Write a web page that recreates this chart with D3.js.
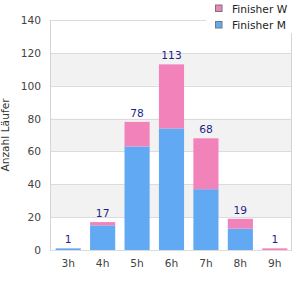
<!DOCTYPE html>
<html>
<head>
<meta charset="utf-8">
<script src="https://cdn.jsdelivr.net/npm/d3@7"></script>
<style>
  body { margin: 0; background: #fff; }
  svg { display: block; font-family: "DejaVu Sans", sans-serif; }
</style>
</head>
<body>
<div id="chart"></div>
<script>
const categories = ["3h", "4h", "5h", "6h", "7h", "8h", "9h"];
const finisherM = [1, 15, 63, 74, 37, 13, 0];
const finisherW = [0, 2, 15, 39, 31, 6, 1];
const yTicks = [0, 20, 40, 60, 80, 100, 120, 140];

const width = 300, height = 300;
const plotLeft = 50, plotRight = 291, plotTop = 20, plotBottom = 250;
const fontSize = "10.67px";

const svg = d3.select("#chart").append("svg")
  .attr("width", width)
  .attr("height", height);

const x = d3.scaleBand()
  .domain(categories)
  .range([51, 292])
  .paddingInner(0.27)
  .paddingOuter(0.135);

const y = d3.scaleLinear()
  .domain([0, 140])
  .range([plotBottom, plotTop]);

// alternating bands
for (let i = 0; i < yTicks.length - 1; i++) {
  if (i % 2 === 1) {
    svg.append("rect")
      .attr("x", plotLeft)
      .attr("y", y(yTicks[i + 1]))
      .attr("width", plotRight - plotLeft)
      .attr("height", y(yTicks[i]) - y(yTicks[i + 1]))
      .attr("fill", "#f2f2f2");
  }
}

// grid lines
svg.selectAll(".grid")
  .data(yTicks)
  .enter().append("line")
  .attr("x1", plotLeft)
  .attr("x2", plotRight)
  .attr("y1", d => Math.round(y(d)) + 0.5)
  .attr("y2", d => Math.round(y(d)) + 0.5)
  .attr("stroke", "#dcdcdc")
  .attr("stroke-width", 1);

// plot border (left, right)
svg.append("line")
  .attr("x1", plotLeft + 0.5).attr("x2", plotLeft + 0.5)
  .attr("y1", plotTop).attr("y2", plotBottom + 1)
  .attr("stroke", "#d4d4d4");
svg.append("line")
  .attr("x1", plotRight + 0.5).attr("x2", plotRight + 0.5)
  .attr("y1", plotTop).attr("y2", plotBottom + 1)
  .attr("stroke", "#d4d4d4");

// stacked bars
const rows = categories.map((c, i) => ({ cat: c, M: finisherM[i], W: finisherW[i] }));
const stack = d3.stack().keys(["M", "W"])(rows);
const colors = { M: "#62a9f4", W: "#f283ba" };

svg.selectAll(".layer")
  .data(stack)
  .enter().append("g")
  .attr("fill", d => colors[d.key])
  .selectAll("rect")
  .data(d => d)
  .enter().append("rect")
  .attr("x", d => x(d.data.cat))
  .attr("width", x.bandwidth())
  .attr("y", d => y(d[1]))
  .attr("height", d => y(d[0]) - y(d[1]));

// total labels
svg.selectAll(".total")
  .data(rows)
  .enter().append("text")
  .attr("x", d => x(d.cat) + x.bandwidth() / 2)
  .attr("y", d => y(d.M + d.W) - 5)
  .attr("text-anchor", "middle")
  .attr("font-size", fontSize)
  .attr("fill", "#1f1f8c")
  .text(d => d.M + d.W);

// y tick labels
svg.selectAll(".ytick")
  .data(yTicks)
  .enter().append("text")
  .attr("x", 41)
  .attr("y", d => y(d) + 4)
  .attr("text-anchor", "end")
  .attr("font-size", fontSize)
  .attr("fill", "#444")
  .text(d => d);

// x tick labels
svg.selectAll(".xtick")
  .data(categories)
  .enter().append("text")
  .attr("x", d => x(d) + x.bandwidth() / 2)
  .attr("y", 267)
  .attr("text-anchor", "middle")
  .attr("font-size", fontSize)
  .attr("fill", "#444")
  .text(d => d);

// y axis title
svg.append("text")
  .attr("transform", "translate(9,135) rotate(-90)")
  .attr("text-anchor", "middle")
  .attr("font-size", fontSize)
  .attr("fill", "#333")
  .text("Anzahl Läufer");

// legend
svg.append("rect")
  .attr("x", 206).attr("y", 0)
  .attr("width", 94).attr("height", 33)
  .attr("fill", "#fff");

const legendItems = [
  { label: "Finisher W", color: colors.W },
  { label: "Finisher M", color: colors.M }
];
const legend = svg.selectAll(".legend")
  .data(legendItems)
  .enter().append("g")
  .attr("transform", (d, i) => `translate(215,${4.5 + i * 16.5})`);
legend.append("rect")
  .attr("x", 0.5).attr("y", 0.5)
  .attr("width", 6.5).attr("height", 6.5)
  .attr("fill", d => d.color)
  .attr("stroke", "#777");
legend.append("text")
  .attr("x", 17)
  .attr("y", 8)
  .attr("font-size", fontSize)
  .attr("fill", "#222")
  .text(d => d.label);
</script>
</body>
</html>
